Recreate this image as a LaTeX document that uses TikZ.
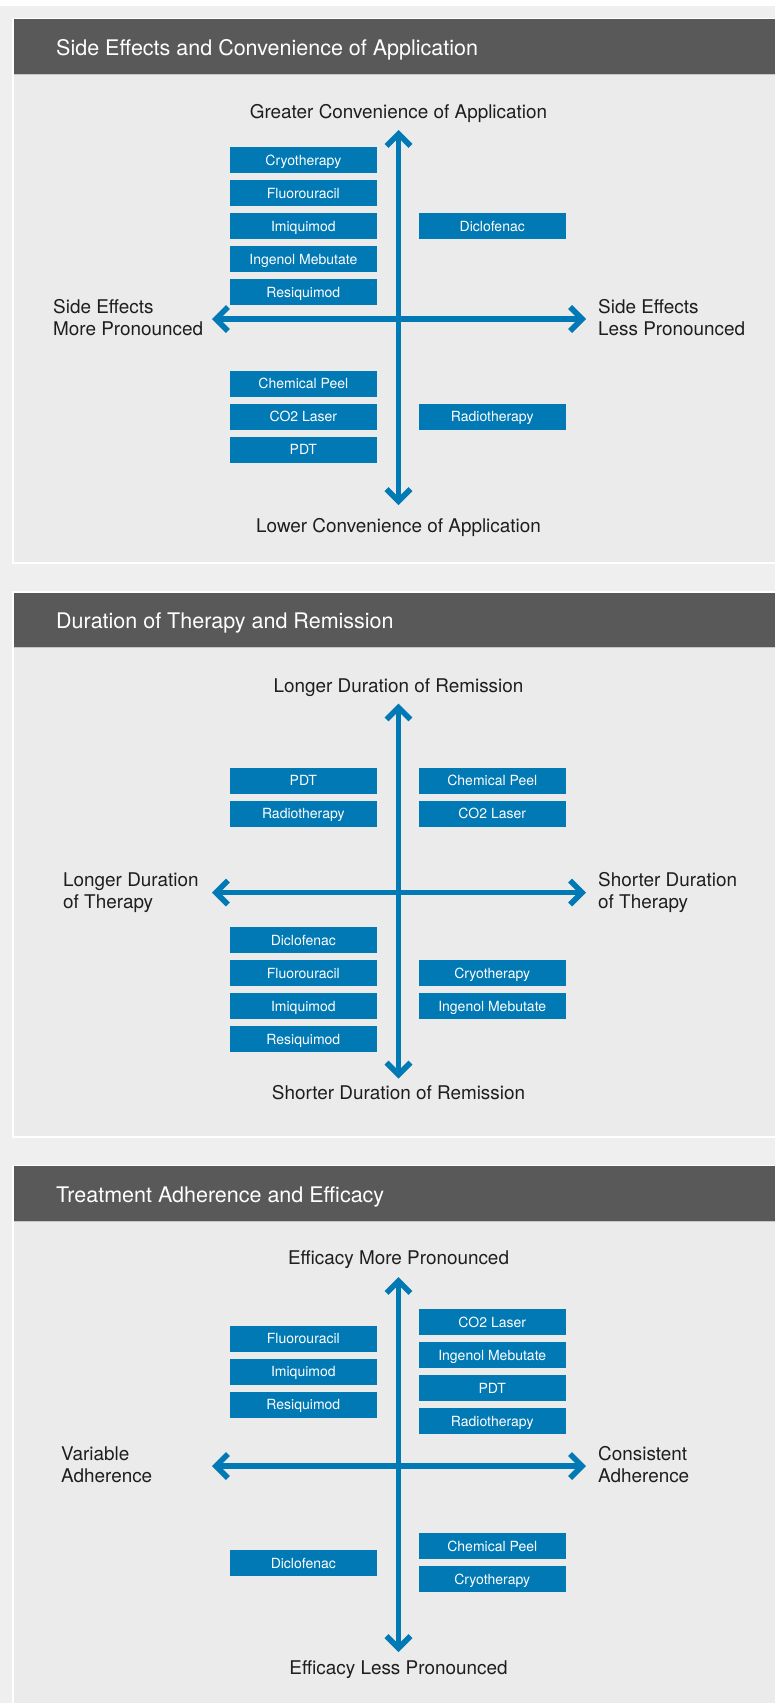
\documentclass[tikz,border=0pt]{standalone}
\usepackage{fontspec}
\setmainfont{TeX Gyre Heros}
\usetikzlibrary{arrows.meta}
\definecolor{qblue}{HTML}{0079B4}
\definecolor{hdrc}{HTML}{595959}
\definecolor{hdrline}{HTML}{C6C6C6}
\definecolor{bodyc}{HTML}{EBEBEB}
\definecolor{outerc}{HTML}{EFEFEF}
\definecolor{lblc}{HTML}{1E1E1E}
\tikzset{
  tbox/.style={fill=qblue, text=white, minimum width=146.5pt, minimum height=26pt,
    inner sep=0pt, text height=10.1pt, text depth=0pt, font=\fontsize{14}{16}\selectfont},
  axlbl/.style={text=lblc, inner sep=0pt, font=\fontsize{18.9}{22}\selectfont, anchor=base},
  sidelbl/.style={axlbl, align=left, anchor=base west},
  ttl/.style={text=white, inner sep=0pt, font=\fontsize{21.5}{26}\selectfont, anchor=base west},
  axisline/.style={draw=qblue, line width=5.5pt,
    {Straight Barb[length=12pt,width=24pt]}-{Straight Barb[length=12pt,width=24pt]}},
}
\newcommand{\panelbg}[1]{%
  \fill[white] (12.3,#1-1.3) rectangle (775,#1+545);
  \fill[hdrc] (14,#1) rectangle (775,#1+54.5);
  \fill[hdrline] (14,#1+54.5) rectangle (775,#1+55.5);
  \fill[bodyc] (14,#1+55.5) rectangle (775,#1+543);
}
\begin{document}
\begin{tikzpicture}[x=1pt,y=-1pt]
\useasboundingbox (0,0) rectangle (775,1703);
\clip (0,0) rectangle (775,1703);
\fill[outerc] (0,0) rectangle (775,1703);
\fill[white] (0,0) rectangle (775,6);
\panelbg{19}
\panelbg{592.5}
\panelbg{1166}

% ---------- Panel 1 ----------
\node[ttl] (t1) at (56,55) {Side Effects and Convenience of Application};
\node[axlbl] (top1) at (398.5,118) {Greater Convenience of Application};
\node[axlbl] (bot1) at (398.5,532.5) {Lower Convenience of Application};
\coordinate (v1t) at (398.5,130);
\coordinate (v1b) at (398.5,505);
\coordinate (h1l) at (212,319);
\coordinate (h1r) at (586,319);
\draw[axisline] (v1b) -- (v1t);
\draw[axisline] (h1r) -- (h1l);
\node[sidelbl] (l1) at (53,335.5) {Side Effects\\More Pronounced};
\node[sidelbl] (r1) at (598,335.5) {Side Effects\\Less Pronounced};
\node[tbox] (a1) at (303.35,160.3) {Cryotherapy};
\node[tbox] (a2) at (303.35,193.3) {Fluorouracil};
\node[tbox] (a3) at (303.35,226.3) {Imiquimod};
\node[tbox] (a4) at (303.35,259.3) {Ingenol Mebutate};
\node[tbox] (a5) at (303.35,292.3) {Resiquimod};
\node[tbox] (a6) at (492.25,226.3) {Diclofenac};
\node[tbox] (a7) at (303.35,383.7) {Chemical Peel};
\node[tbox] (a8) at (303.35,416.7) {CO2 Laser};
\node[tbox] (a9) at (303.35,449.7) {PDT};
\node[tbox] (a10) at (492.25,416.7) {Radiotherapy};

% ---------- Panel 2 ----------
\node[ttl] (t2) at (56,628.5) {Duration of Therapy and Remission};
\node[axlbl] (top2) at (398.5,692) {Longer Duration of Remission};
\node[axlbl] (bot2) at (398.5,1099.5) {Shorter Duration of Remission};
\coordinate (v2t) at (398.5,703.5);
\coordinate (v2b) at (398.5,1078.5);
\coordinate (h2l) at (212,892.5);
\coordinate (h2r) at (586,892.5);
\draw[axisline] (v2b) -- (v2t);
\draw[axisline] (h2r) -- (h2l);
\node[sidelbl] (l2) at (63,908.8) {Longer Duration\\of Therapy};
\node[sidelbl] (r2) at (598,908.8) {Shorter Duration\\of Therapy};
\node[tbox] (b1) at (303.35,780.5) {PDT};
\node[tbox] (b2) at (303.35,813.5) {Radiotherapy};
\node[tbox] (b3) at (492.25,780.5) {Chemical Peel};
\node[tbox] (b4) at (492.25,813.5) {CO2 Laser};
\node[tbox] (b5) at (303.35,940) {Diclofenac};
\node[tbox] (b6) at (303.35,973) {Fluorouracil};
\node[tbox] (b7) at (303.35,1006) {Imiquimod};
\node[tbox] (b8) at (303.35,1039) {Resiquimod};
\node[tbox] (b9) at (492.25,973) {Cryotherapy};
\node[tbox] (b10) at (492.25,1006) {Ingenol Mebutate};

% ---------- Panel 3 ----------
\node[ttl] (t3) at (56,1202) {Treatment Adherence and Efficacy};
\node[axlbl] (top3) at (398.5,1264.5) {Efficacy More Pronounced};
\node[axlbl] (bot3) at (398.5,1674) {Efficacy Less Pronounced};
\coordinate (v3t) at (398.5,1277);
\coordinate (v3b) at (398.5,1652);
\coordinate (h3l) at (212,1466);
\coordinate (h3r) at (586,1466);
\draw[axisline] (v3b) -- (v3t);
\draw[axisline] (h3r) -- (h3l);
\node[sidelbl] (l3) at (61,1482) {Variable\\Adherence};
\node[sidelbl] (r3) at (598,1482) {Consistent\\Adherence};
\node[tbox] (c1) at (303.35,1338.5) {Fluorouracil};
\node[tbox] (c2) at (303.35,1371.5) {Imiquimod};
\node[tbox] (c3) at (303.35,1404.5) {Resiquimod};
\node[tbox] (c4) at (492.25,1322) {CO2 Laser};
\node[tbox] (c5) at (492.25,1355) {Ingenol Mebutate};
\node[tbox] (c6) at (492.25,1388) {PDT};
\node[tbox] (c7) at (492.25,1421) {Radiotherapy};
\node[tbox] (c8) at (303.35,1563) {Diclofenac};
\node[tbox] (c9) at (492.25,1546) {Chemical Peel};
\node[tbox] (c10) at (492.25,1579) {Cryotherapy};
\end{tikzpicture}
\end{document}
